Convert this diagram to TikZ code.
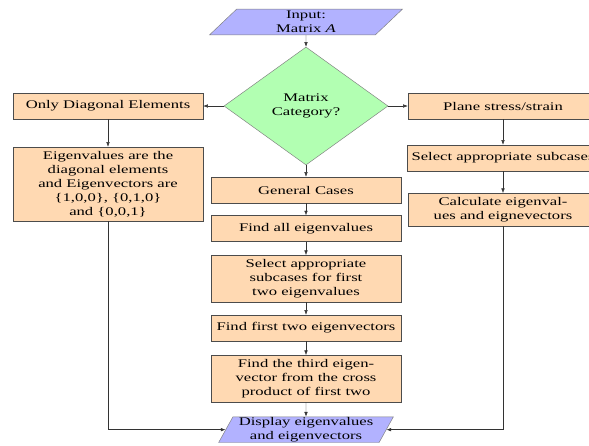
\documentclass[tikz,border=0pt]{standalone}
\usepackage{fontspec}
\setmainfont{Liberation Serif}[FakeStretch=1.42]
\usetikzlibrary{arrows.meta,shapes.geometric}

\begin{document}
\begin{tikzpicture}
\tikzstyle{process} = [rectangle, draw = black!70, fill = orange!30, minimum width = 5.7cm, minimum height = 0.78cm, align = center]
\tikzstyle{decision} = [diamond, draw = black!50, fill = green!30, minimum width = 4.92cm, minimum height = 3.54cm, inner sep = 0pt, align = center]
\tikzstyle{io} = [trapezium, trapezium left angle = 62, trapezium right angle = 118, trapezium stretches = true, draw = black!50, fill = blue!30, minimum width = 5.4cm, minimum height = 0.77cm, inner sep = 0pt, align = center]
\tikzstyle{edge} = [-{Latex[length=4pt, width=3pt]}, draw = black!80]
\useasboundingbox (0, 0) rectangle (17.67, -13.35);
% -----------------------------------
% Input and decision
\node[io, minimum width = 5.8cm] (in) at (9.18, -0.66) {Input:\\Matrix \textit{A}};
\node[decision] (cat) at (9.18, -3.18) {Matrix\\Category?};

\draw[edge] (in)--(cat);

% -----------------------------------
% Diagonal case
\node[process] (diag) at (3.24, -3.18) {Only Diagonal Elements};
\node[process] (eig) at (3.24, -5.52) {Eigenvalues are the\\diagonal elements\\and Eigenvectors are\\\{1,0,0\}, \{0,1,0\}\\and \{0,0,1\}};

\draw[edge] (cat)--(diag);
\draw[edge] (diag)--(eig);

% -----------------------------------
% Plane stress/strain
\node[process] (plane) at (15.09, -3.18) {Plane stress/strain};
\node[process] (subr) at (15.09, -4.74) {Select appropriate subcases};
\node[process] (calc) at (15.09, -6.29) {Calculate eigenval-\\ues and eignevectors};

\draw[edge] (cat)--(plane);
\draw[edge] (plane)--(subr);
\draw[edge] (subr)--(calc);

% -----------------------------------
% General cases
\node[process] (gen) at (9.18, -5.70) {General Cases};
\node[process] (all) at (9.18, -6.86) {Find all eigenvalues};
\node[process] (sub) at (9.18, -8.36) {Select appropriate\\subcases for first\\two eigenvalues};
\node[process] (two) at (9.18, -9.84) {Find first two eigenvectors};
\node[process] (third) at (9.18, -11.36) {Find the third eigen-\\vector from the cross\\product of first two};

\draw[edge] (cat)--(gen);
\draw[edge] (gen)--(all);
\draw[edge] (all)--(sub);
\draw[edge] (sub)--(two);
\draw[edge] (two)--(third);

% -----------------------------------
% Output
\node[io, minimum width = 5.25cm] (out) at (9.18, -12.89) {Display eigenvalues\\and eigenvectors};

\draw[edge] (third)--(out);
\draw[edge] (eig.south) |- (out.west);
\draw[edge] (calc.south) |- (out.east);
% -----------------------------------
\end{tikzpicture}
\end{document}
